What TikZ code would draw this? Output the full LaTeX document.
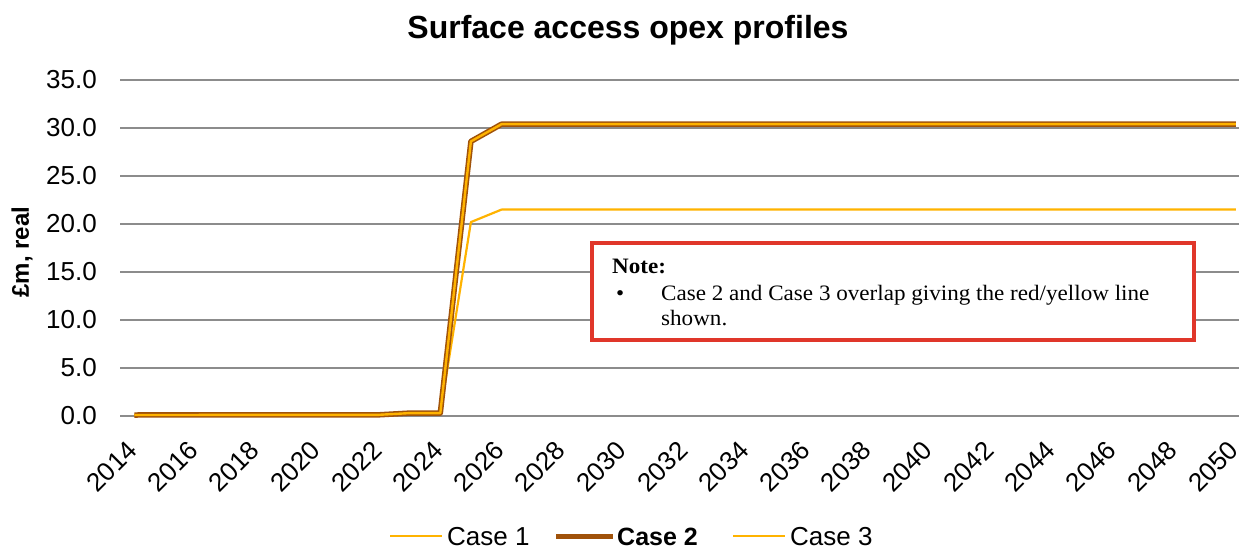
\documentclass[tikz,border=0pt]{standalone}
\usepackage{fontspec}
\setmainfont{Liberation Sans}
\newfontfamily\notefont[FakeStretch=1.05]{Liberation Serif}
\definecolor{gridgray}{HTML}{8C8C8C}
\definecolor{caseyellow}{HTML}{FFB300}
\definecolor{casebrown}{HTML}{A0520A}
\definecolor{notered}{HTML}{E0362A}
\tikzset{
  gridline/.style={draw=gridgray, line width=2},
  ytick/.style={anchor=east, inner sep=0, font=\fontsize{26}{30}\selectfont},
  xtick/.style={anchor=east, inner sep=0, rotate=45, font=\fontsize{26}{30}\selectfont},
  thinyellow/.style={draw=caseyellow, line width=2.2, line join=round},
  thickbrown/.style={draw=casebrown, line width=5.5, line join=round},
  inneryellow/.style={draw=caseyellow, line width=2.4, line join=round},
  legendtext/.style={anchor=base west, inner sep=0, font=\fontsize{26}{30}\selectfont},
  notebox/.style={draw=notered, line width=4, fill=white, anchor=north west,
    minimum width=602, minimum height=97, inner sep=0},
  notetext/.style={anchor=base west, inner sep=0, font=\notefont\fontsize{22}{26}\selectfont}
}
\begin{document}
\begin{tikzpicture}[x=1pt,y=-1pt]
\useasboundingbox (0,0) rectangle (1239,548);
\fill[white] (0,0) rectangle (1239,548);

% title
\node[font=\bfseries\fontsize{32}{36}\selectfont] (title) at (628,30) {Surface access opex profiles};

% horizontal gridlines and value labels
\foreach \v/\t in {0/0.0,5/5.0,10/10.0,15/15.0,20/20.0,25/25.0,30/30.0,35/35.0} {
  \draw[gridline] (120,{416-9.6*\v}) -- (1239,{416-9.6*\v});
  \node[ytick] (yl\v) at (97,{416-9.6*\v}) {\t};
}

% axis title
\node[rotate=90, font=\bfseries\fontsize{24}{28}\selectfont] (ytitle) at (22,252) {£m, real};

% year labels
\foreach \yr in {2014,2016,...,2050} {
  \node[xtick] (xl\yr) at ({134.3+30.6*(\yr-2014)-2},446) {\yr};
}

% Case 1
\draw[thinyellow] (134.3,415) -- (379.1,414.8) -- (409.7,413.1) -- (440.3,413.1)
  -- (470.9,222.1) -- (501.5,209.6) -- (1235.9,209.6);
% Case 2
\draw[thickbrown] (134.3,415) -- (379.1,414.8) -- (409.7,413.1) -- (440.3,413.1)
  -- (470.9,141.4) -- (501.5,124.2) -- (1235.9,124.2);
% Case 3 (same values as Case 2)
\draw[inneryellow] (134.3,415) -- (379.1,414.8) -- (409.7,413.1) -- (440.3,413.1)
  -- (470.9,141.4) -- (501.5,124.2) -- (1235.9,124.2);

% note box
\node[notebox] (note) at (590,241) {};
\node[notetext, font=\notefont\bfseries\fontsize{22}{26}\selectfont] (notehead) at (612,273) {Note:};
\node[notetext] (bullet) at (616,300) {\textbullet};
\node[notetext] (line1) at (661,300) {Case 2 and Case 3 overlap giving the red/yellow line};
\node[notetext] (line2) at (661,325) {shown.};

% legend
\coordinate (l1a) at (390,536); \coordinate (l1b) at (442,536);
\coordinate (l2a) at (556,536); \coordinate (l2b) at (613,536);
\coordinate (l3a) at (733,536); \coordinate (l3b) at (785,536);
\draw[thinyellow] (l1a) -- (l1b);
\draw[draw=casebrown, line width=5] (l2a) -- (l2b);
\draw[thinyellow] (l3a) -- (l3b);
\node[legendtext] (leg1) at (447,545) {Case 1};
\node[legendtext, font=\bfseries\fontsize{25}{29}\selectfont] (leg2) at (617,545) {Case 2};
\node[legendtext] (leg3) at (790,545) {Case 3};
\end{tikzpicture}
\end{document}
